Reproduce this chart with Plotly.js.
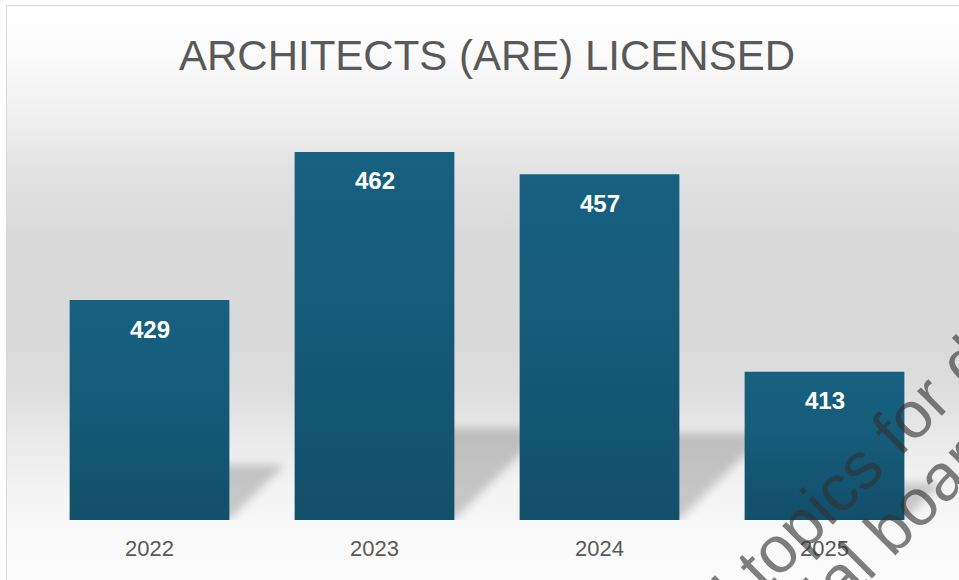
<!DOCTYPE html>
<html>
<head>
<meta charset="utf-8">
<script src="https://cdn.plot.ly/plotly-3.0.1.min.js"></script>
<style>
  html, body { margin: 0; padding: 0; background: #ffffff; overflow: hidden; }
  #frame {
    position: absolute; left: 6px; top: 5px; width: 980px; height: 600px;
    border-left: 1px solid #d9d9d9; border-top: 1px solid #d9d9d9;
    background: linear-gradient(to bottom,
      #ffffff 0px, #fbfbfb 45px, #f1f1f1 105px, #e3e3e3 160px,
      #dadada 230px, #d9d9d9 330px, #dedede 385px, #e9e9e9 430px,
      #f3f3f3 480px, #f9f9f9 530px, #fbfbfb 580px);
  }
  #chart { position: absolute; left: 0; top: 0; width: 959px; height: 580px; }
</style>
</head>
<body>
<div id="frame"></div>
<div id="chart"></div>
<script>
// ---- data ----
const categories = ['2022', '2023', '2024', '2025'];
const licensed = [429, 462, 457, 413];
const valueLabels = ['429', '462', '457', '413'];
const chartTitle = 'ARCHITECTS (ARE) LICENSED';
const watermarkLines = ['ed topics for dis', 'cial board'];

// ---- layout helpers ----
const W = 959, H = 580;
const margin = { l: 37, r: 22, t: 116, b: 60, pad: 0 };
const plotW = W - margin.l - margin.r;
const plotH = H - margin.t - margin.b;
function px2paperX(px) { return (px - margin.l) / plotW; }
function px2paperY(py) { return (H - margin.b - py) / plotH; }

// value labels: x given as the category index on the category axis
const labelAnnotations = categories.map((c, i) => ({
  x: i, y: licensed[i], xref: 'x', yref: 'y',
  text: valueLabels[i], showarrow: false,
  yshift: -29, xanchor: 'center', yanchor: 'middle',
  font: { family: 'Liberation Sans, Arial, sans-serif', size: 24, color: '#ffffff', weight: 'bold' }
}));

// watermark (rotated, semi-transparent)
const wmCenters = [[847, 478], [894, 524]];
const wmAnnotations = watermarkLines.map((t, i) => ({
  x: px2paperX(wmCenters[i][0]), y: px2paperY(wmCenters[i][1]),
  xref: 'paper', yref: 'paper', text: t, showarrow: false,
  textangle: -45, xanchor: 'center', yanchor: 'middle',
  font: { family: 'Liberation Sans, Arial, sans-serif', size: 66, color: 'rgba(50,50,50,0.62)' }
}));

const trace = {
  type: 'bar',
  x: categories,
  y: licensed,
  marker: { color: '#155a79', line: { width: 0 } },
  hoverinfo: 'x+y'
};

const layout = {
  width: W, height: H,
  margin: margin,
  paper_bgcolor: 'rgba(0,0,0,0)',
  plot_bgcolor: 'rgba(0,0,0,0)',
  showlegend: false,
  bargap: 0.29,
  title: {
    text: chartTitle,
    x: 487 / W, xref: 'container', xanchor: 'center',
    y: 1 - 55 / H, yref: 'container', yanchor: 'middle',
    font: { family: 'Liberation Sans, Arial, sans-serif', size: 42, color: '#595959' }
  },
  xaxis: {
    type: 'category',
    range: [-0.5, categories.length - 0.5], autorange: false,
    showgrid: false, zeroline: false, showline: false, ticks: '',
    ticklabelstandoff: 13,
    tickfont: { family: 'Liberation Sans, Arial, sans-serif', size: 22, color: '#595959' }
  },
  yaxis: {
    visible: false, range: [380, 470], autorange: false, showgrid: false, zeroline: false
  },
  annotations: labelAnnotations.concat(wmAnnotations)
};

const gd = document.getElementById('chart');
Plotly.newPlot(gd, [trace], layout, { staticPlot: true, displayModeBar: false }).then(() => {
  const NS = 'http://www.w3.org/2000/svg';
  const svg = gd.querySelector('.main-svg');
  let defs = svg.querySelector('defs');
  if (!defs) { defs = document.createElementNS(NS, 'defs'); svg.insertBefore(defs, svg.firstChild); }
  const filter = document.createElementNS(NS, 'filter');
  filter.setAttribute('id', 'shadowBlur');
  filter.setAttribute('x', '-50%'); filter.setAttribute('y', '-50%');
  filter.setAttribute('width', '200%'); filter.setAttribute('height', '200%');
  const blur = document.createElementNS(NS, 'feGaussianBlur');
  blur.setAttribute('stdDeviation', '4');
  filter.appendChild(blur);
  defs.appendChild(filter);

  const size = gd._fullLayout._size;
  const paths = gd.querySelectorAll('.barlayer .point path');
  let firstPoint = null, pointsGroup = null;
  paths.forEach((p, i) => {
    const bb = p.getBBox();
    const top = Math.max(bb.y, 0);
    const bottom = Math.min(bb.y + bb.height, size.h);
    const grad = document.createElementNS(NS, 'linearGradient');
    grad.setAttribute('id', 'barGrad' + i);
    grad.setAttribute('gradientUnits', 'userSpaceOnUse');
    grad.setAttribute('x1', 0); grad.setAttribute('x2', 0);
    grad.setAttribute('y1', top); grad.setAttribute('y2', bottom);
    [['0', '#17607f'], ['0.35', '#165d7c'], ['1', '#124f6a']].forEach(([o, c]) => {
      const s = document.createElementNS(NS, 'stop');
      s.setAttribute('offset', o); s.setAttribute('stop-color', c);
      grad.appendChild(s);
    });
    defs.appendChild(grad);
    p.style.fill = 'url(#barGrad' + i + ')';

    // soft cast shadow behind the bar
    const h = bottom - top;
    const d = 0.25 * h;
    const x0 = bb.x, x1 = bb.x + bb.width;
    const sh = document.createElementNS(NS, 'path');
    sh.setAttribute('d', `M${x0},${bottom} L${x1},${bottom} L${x1 + d},${bottom - d} L${x0 + d},${bottom - d} Z`);
    sh.setAttribute('fill', 'rgba(0,0,0,0.19)');
    sh.setAttribute('filter', 'url(#shadowBlur)');
    const pt = p.parentNode;
    if (!pointsGroup) { pointsGroup = pt.parentNode; firstPoint = pointsGroup.firstChild; }
    pointsGroup.insertBefore(sh, firstPoint);
  });
});
</script>
</body>
</html>
